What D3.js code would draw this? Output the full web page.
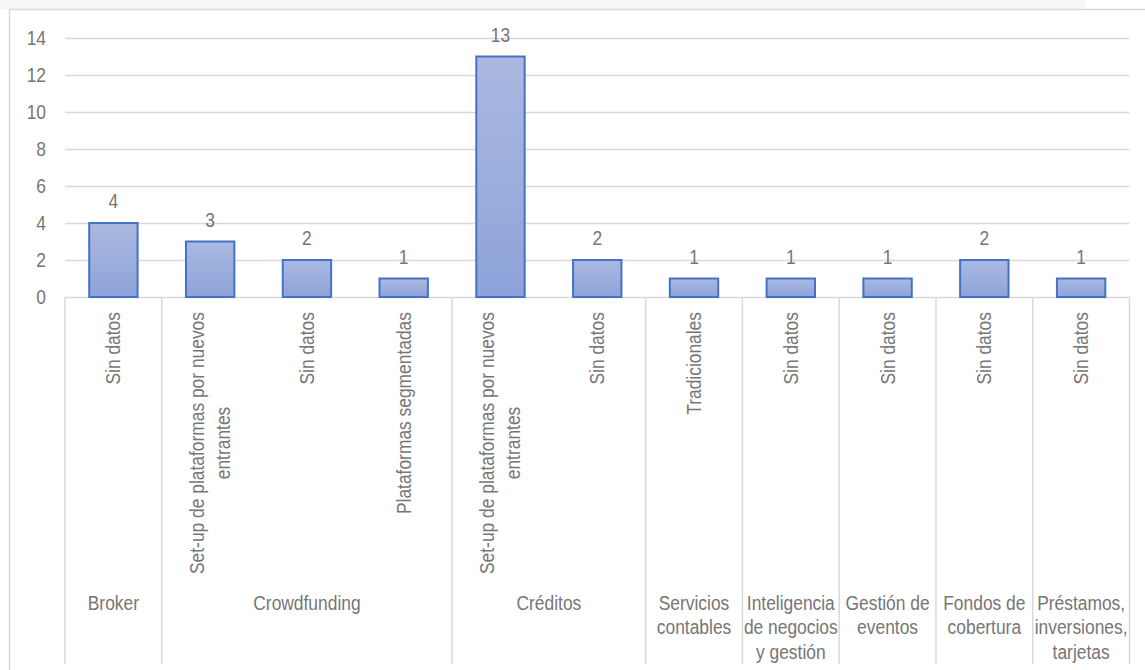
<!DOCTYPE html>
<html>
<head>
<meta charset="utf-8">
<script src="https://cdn.jsdelivr.net/npm/d3@7"></script>
<style>
  body { margin: 0; background: #fff; }
  text { font-family: "Liberation Sans", Arial, sans-serif; fill: #767676; }
</style>
</head>
<body>
<script>
// chart data
const subLabels = [
    "Sin datos",
    "Set-up de plataformas por nuevos\nentrantes",
    "Sin datos",
    "Plataformas segmentadas",
    "Set-up de plataformas por nuevos\nentrantes",
    "Sin datos",
    "Tradicionales",
    "Sin datos",
    "Sin datos",
    "Sin datos",
    "Sin datos"
];
const groupLabels = [
    "Broker",
    "Crowdfunding",
    "Créditos",
    "Servicios\ncontables",
    "Inteligencia\nde negocios\ny gestión",
    "Gestión de\neventos",
    "Fondos de\ncobertura",
    "Préstamos,\ninversiones,\ntarjetas"
];
const groupSizes = [1, 3, 2, 1, 1, 1, 1, 1];
const values = [4, 3, 2, 1, 13, 2, 1, 1, 1, 2, 1];
const yTicks = [0, 2, 4, 6, 8, 10, 12, 14];

const width = 1145, height = 670;
const plotLeft = 65, plotRight = 1129.5, plotTop = 38, plotBase = 297;
const fs = 20, sx = 0.87; // narrow-looking text: squeeze horizontally

const svg = d3.select("body").append("svg")
    .attr("width", width)
    .attr("height", height);

// chart frame
svg.append("rect")
    .attr("x", 0).attr("y", 0)
    .attr("width", 1085).attr("height", 9)
    .attr("fill", "#f6f6f6");
svg.append("rect")
    .attr("x", 9.5).attr("y", 9.5)
    .attr("width", 1200).attr("height", 700)
    .attr("fill", "#fff")
    .attr("stroke", "#d9d9d9")
    .attr("stroke-width", 1.5);

const defs = svg.append("defs");
const grad = defs.append("linearGradient")
    .attr("id", "barFill")
    .attr("x1", 0).attr("y1", 0)
    .attr("x2", 0).attr("y2", 1);
grad.append("stop").attr("offset", "0%").attr("stop-color", "#abb9e1");
grad.append("stop").attr("offset", "100%").attr("stop-color", "#8da3d9");

const x = d3.scaleBand()
    .domain(d3.range(values.length))
    .range([plotLeft, plotRight])
    .paddingInner(0.5)
    .paddingOuter(0.25);

const y = d3.scaleLinear()
    .domain([0, 14])
    .range([plotBase, plotTop]);

// gridlines + y labels
const yAxis = svg.append("g")
    .attr("transform", `translate(${plotLeft},0)`)
    .call(d3.axisLeft(y)
        .tickValues(yTicks)
        .tickSize(-(plotRight - plotLeft))
        .tickPadding(19));
yAxis.attr("font-family", null);
yAxis.select(".domain").remove();
yAxis.selectAll("line")
    .attr("stroke", "#d9d9d9")
    .attr("stroke-width", 1.5);
yAxis.selectAll("text")
    .attr("font-size", fs)
    .attr("fill", "#767676")
    .attr("x", 0)
    .attr("transform", `translate(-19,0) scale(${sx},1)`);

// group separators
const bounds = [0].concat(Array.from(d3.cumsum(groupSizes)));
const step = x.step();
const sepX = i => plotLeft + i * step;
svg.selectAll("line.sep")
    .data(bounds)
    .enter().append("line")
    .attr("class", "sep")
    .attr("x1", d => sepX(d)).attr("x2", d => sepX(d))
    .attr("y1", plotBase).attr("y2", 664)
    .attr("stroke", "#d9d9d9")
    .attr("stroke-width", 1.5);

// bars
svg.selectAll("rect.bar")
    .data(values)
    .enter().append("rect")
    .attr("class", "bar")
    .attr("x", (d, i) => x(i))
    .attr("y", d => y(d))
    .attr("width", x.bandwidth())
    .attr("height", d => plotBase - y(d))
    .attr("fill", "url(#barFill)")
    .attr("stroke", "#4472c4")
    .attr("stroke-width", 2);

// value labels
svg.selectAll("text.val")
    .data(values)
    .enter().append("text")
    .attr("class", "val")
    .attr("transform", (d, i) => `translate(${x(i) + x.bandwidth() / 2},${y(d) - 15}) scale(${sx},1)`)
    .attr("text-anchor", "middle")
    .attr("font-size", fs)
    .text(d => d);

// rotated sub-category labels
const lh = 26;
subLabels.forEach(function (lab, i) {
    const lines = lab.split("\n");
    const cx = x(i) + x.bandwidth() / 2;
    const g = svg.append("g")
        .attr("transform", `translate(${cx},312) rotate(-90) scale(${sx},1)`);
    const t = g.append("text")
        .attr("font-size", fs)
        .attr("text-anchor", "middle");
    lines.forEach(function (ln, k) {
        t.append("tspan")
            .attr("y", (k - (lines.length - 1) / 2) * lh)
            .attr("dy", "0.35em")
            .text(ln);
    });
    let maxLen = 0;
    t.selectAll("tspan").each(function () {
        maxLen = Math.max(maxLen, this.getComputedTextLength());
    });
    t.selectAll("tspan").attr("x", -maxLen / 2);
});

// group labels
groupLabels.forEach(function (lab, gi) {
    const cx = (sepX(bounds[gi]) + sepX(bounds[gi + 1])) / 2;
    const t = svg.append("text")
        .attr("transform", `translate(${cx},603) scale(${sx},1)`)
        .attr("font-size", fs)
        .attr("text-anchor", "middle");
    lab.split("\n").forEach(function (ln, k) {
        t.append("tspan")
            .attr("x", 0)
            .attr("y", k * 24.5)
            .attr("dy", "0.35em")
            .text(ln);
    });
});
</script>
</body>
</html>
